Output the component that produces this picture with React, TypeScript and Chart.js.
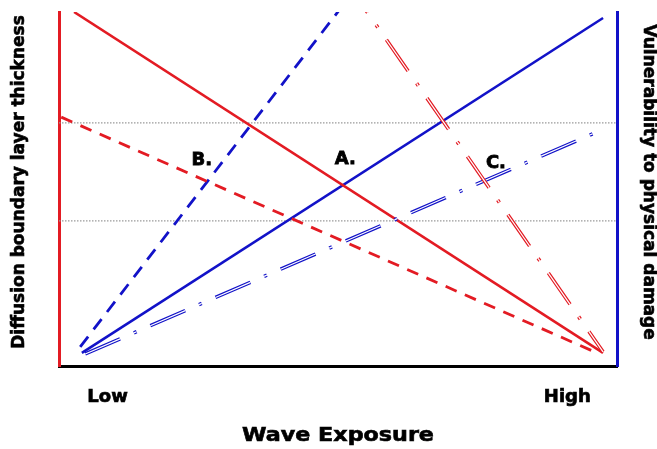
import React, { useEffect, useRef } from "react";
import { Chart, registerables } from "chart.js";

Chart.register(...registerables);

// Wave exposure scale runs 0 (Low) .. 100 (High); responses 0..100
const tickValues = [8.7, 91.1];
const tickLabels = ["Low", "High"];

const redSolid = [{ x: 2.7, y: 100 }, { x: 97.5, y: 3.7 }];
const redDashed = [{ x: 0.4, y: 70.3 }, { x: 96.4, y: 3.7 }];
const redDashDot = [{ x: 55.0, y: 100.5 }, { x: 97.5, y: 4.0 }];
const blueSolid = [{ x: 4.1, y: 3.7 }, { x: 97.5, y: 98.3 }];
const blueDashed = [{ x: 3.8, y: 5.4 }, { x: 50.2, y: 100.5 }];
const blueDashDot = [{ x: 4.7, y: 3.4 }, { x: 98.0, y: 67.2 }];
const refUpper = [{ x: 0, y: 68.7 }, { x: 100, y: 68.7 }];
const refLower = [{ x: 0, y: 41.0 }, { x: 100, y: 41.0 }];

const markTexts = ["A.", "B.", "C."];
const markX = [51.3, 25.6, 78.3];
const markY = [58.5, 58.2, 57.3];

const RED = "#e31b23";
const BLUE = "#1212c8";
const FONT = "'DejaVu Sans', sans-serif";

const markPlugin = {
  id: "marks",
  afterDatasetsDraw(chart: any) {
    const { ctx, scales } = chart;
    ctx.save();
    ctx.font = `bold 18px ${FONT}`;
    ctx.fillStyle = "#000";
    ctx.strokeStyle = "#000";
    ctx.lineWidth = 0.8;
    ctx.textAlign = "center";
    ctx.textBaseline = "middle";
    markTexts.forEach((t, i) => {
      const px = scales.x.getPixelForValue(markX[i]);
      const py = scales.y.getPixelForValue(markY[i]);
      ctx.fillText(t, px, py);
      ctx.strokeText(t, px, py);
    });
    ctx.restore();
  },
};

// small adjustments to how the axis titles are painted (shift, horizontal stretch, heavier stroke)
const titleTweaks = {
  id: "titleTweaks",
  afterLayout(chart: any) {
    const cfg: Record<string, { dy: number; sx: number }> = {
      x: { dy: 0, sx: 1.17 },
      y: { dy: -7, sx: 1 },
      y2: { dy: -7, sx: 1 },
    };
    Object.keys(cfg).forEach((id) => {
      const s = chart.scales[id];
      if (!s || s._tweaked) return;
      const orig = s.drawTitle.bind(s);
      s.drawTitle = () => {
        const ctx = chart.ctx;
        const cx = (s.left + s.right) / 2;
        ctx.save();
        ctx.translate(0, cfg[id].dy);
        if (cfg[id].sx !== 1) {
          ctx.translate(cx, 0);
          ctx.scale(cfg[id].sx, 1);
          ctx.translate(-cx, 0);
        }
        const origFill = ctx.fillText;
        ctx.fillText = function (text: string, x: number, y: number, mw?: number) {
          origFill.call(this, text, x, y, mw as any);
          this.strokeStyle = "#000";
          this.lineWidth = 0.6;
          this.strokeText(text, x, y);
        } as any;
        orig();
        ctx.fillText = origFill;
        ctx.restore();
      };
      s._tweaked = true;
    });
  },
};

export default function App() {
  const ref = useRef<HTMLCanvasElement>(null);
  useEffect(() => {
    if (!ref.current) return;
    const dashDot = [38, 15, 3, 15];
    const base = { pointRadius: 0, tension: 0, fill: false, borderCapStyle: "butt" };
    const chart = new Chart(ref.current, {
      type: "line",
      data: {
        datasets: [
          { ...base, data: refUpper, borderColor: "#9a9a9a", borderWidth: 1.3, borderDash: [1.5, 1.5], order: 10 },
          { ...base, data: refLower, borderColor: "#9a9a9a", borderWidth: 1.3, borderDash: [1.5, 1.5], order: 10 },
          { ...base, data: redSolid, borderColor: RED, borderWidth: 2.6, order: 5 },
          { ...base, data: redDashed, borderColor: RED, borderWidth: 2.8, borderDash: [12, 9], order: 5 },
          { ...base, data: blueSolid, borderColor: BLUE, borderWidth: 2.6, order: 5 },
          { ...base, data: blueDashed, borderColor: BLUE, borderWidth: 2.8, borderDash: [13, 9], order: 5 },
          { ...base, data: blueDashDot, borderColor: BLUE, borderWidth: 3.6, borderDash: dashDot, order: 4 },
          { ...base, data: blueDashDot, borderColor: "#ffffff", borderWidth: 1.2, borderDash: dashDot, order: 3 },
          { ...base, data: redDashDot, borderColor: RED, borderWidth: 3.6, borderDash: dashDot, borderDashOffset: 35, order: 2 },
          { ...base, data: redDashDot, borderColor: "#ffffff", borderWidth: 1.2, borderDash: dashDot, borderDashOffset: 35, order: 1 },
        ] as any,
      },
      options: {
        animation: false,
        responsive: false,
        maintainAspectRatio: false,
        layout: { padding: { top: 12, left: 0, right: 0, bottom: 0 } },
        plugins: { legend: { display: false }, tooltip: { enabled: false } },
        scales: {
          x: {
            type: "linear",
            min: 0,
            max: 100,
            position: "bottom",
            grid: { display: false, drawTicks: false, tickLength: 0 },
            border: { color: "#000", width: 3 },
            afterBuildTicks: (s: any) => {
              s.ticks = tickValues.map((v) => ({ value: v }));
            },
            afterFit: (s: any) => {
              s.height = 83;
            },
            ticks: {
              autoSkip: false,
              maxRotation: 0,
              padding: 21,
              color: "#000",
              textStrokeColor: "#000",
              textStrokeWidth: 0.7,
              font: { family: FONT, size: 18, weight: "bold" },
              callback: (v: any) => tickLabels[tickValues.indexOf(v)] ?? "",
            },
            title: {
              display: true,
              text: "Wave Exposure",
              color: "#000",
              font: { family: FONT, size: 19, weight: "bold" },
              padding: { top: 0, bottom: 2 },
            },
          },
          y: {
            min: 0,
            max: 100,
            position: "left",
            grid: { display: false, drawTicks: false, tickLength: 0 },
            border: { color: RED, width: 3 },
            ticks: { display: false },
            afterFit: (s: any) => {
              s.width = 59;
            },
            title: {
              display: true,
              text: "Diffusion boundary layer thickness",
              color: "#000",
              font: { family: FONT, size: 17, weight: "bold" },
              padding: { top: 9, bottom: 0 },
            },
          },
          y2: {
            min: 0,
            max: 100,
            position: "right",
            grid: { display: false, drawTicks: false, tickLength: 0 },
            border: { color: BLUE, width: 3 },
            ticks: { display: false },
            afterFit: (s: any) => {
              s.width = 40;
            },
            title: {
              display: true,
              text: "Vulnerability to physical damage",
              color: "#000",
              font: { family: FONT, size: 17, weight: "bold", lineHeight: 1 },
              padding: { top: 0, bottom: 0 },
            },
          },
        },
      } as any,
      plugins: [markPlugin, titleTweaks],
    });
    return () => chart.destroy();
  }, []);
  return (
    <div style={{ position: "fixed", left: 0, top: 0, width: 657, height: 449, background: "#fff" }}>
      <canvas ref={ref} width={657} height={449} />
    </div>
  );
}
